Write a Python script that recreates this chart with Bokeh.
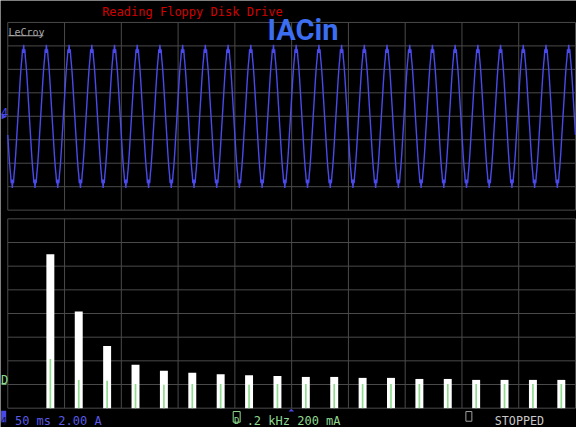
from bokeh.plotting import figure
from bokeh.models import Range1d, Label
from bokeh.embed import file_html
from bokeh.resources import INLINE

# ---------------- data ----------------
title_text = "Reading Floppy Disk Drive"
trace_name = "IACin"
status_ch4 = "50 ms 2.00 A"
status_math = ".2 kHz 200 mA"
status_run = "STOPPED"

# timebase / scales (per division)
ms_per_div = 50
amps_per_div = 2.0
hz_per_div = 200
ma_per_div = 200
n_xdiv = 10
n_ydiv = 8

# one cycle of the input current (A), sampled every 0.5 ms, starting at the positive peak
cycle_amps = [6.1, 5.4, 5.7, 5.0, 4.5, 3.9, 3.2, 2.4, 1.6, 0.8,
              0.0, -0.8, -1.6, -2.4, -3.2, -3.9, -4.5, -5.0, -5.7, -5.4,
              -6.1, -5.4, -5.7, -5.0, -4.5, -3.9, -3.2, -2.4, -1.6, -0.8,
              0.0, 0.8, 1.6, 2.4, 3.2, 3.9, 4.5, 5.0, 5.7, 5.4]
sample_ms = 0.5
period_ms = 20
first_peak_ms = 14.0
n_cycles = 27

# harmonic spectrum
harm_freq_hz = [150, 250, 350, 450, 550, 650, 750, 850, 950, 1050,
                1150, 1250, 1350, 1450, 1550, 1650, 1750, 1850, 1950]
limit_ma = [1300, 816, 525, 367, 316, 300, 286, 278, 272, 264,
            264, 256, 256, 247, 247, 239, 239, 239, 239]
measured_ma = [416, 239, 231, 204, 198, 204, 204, 198, 204, 204,
               204, 204, 204, 204, 204, 204, 204, 204, 204]

# ---------------- layout (reference pixel space) ----------------
PX_L, PX_R = 13.3, 583.0
TOP_T, TOP_B = 26.7, 221.0
BOT_T, BOT_B = 230.0, 426.0
CANVAS_L, CANVAS_R, CANVAS_T, CANVAS_B = 6.0, 584.0, 4.0, 446.0


def lin_range(v0, p0, v1, p1, q_start, q_end):
    s = (v1 - v0) / (p1 - p0)
    return Range1d(start=v0 + (q_start - p0) * s, end=v0 + (q_end - p0) * s)


t_max = ms_per_div * n_xdiv
a_max = amps_per_div * n_ydiv / 2
f_max = hz_per_div * n_xdiv
m_max = ma_per_div * n_ydiv

p = figure(width=576, height=427,
           x_range=Range1d(CANVAS_L, CANVAS_R), y_range=Range1d(CANVAS_B, CANVAS_T),
           x_axis_type=None, y_axis_type=None,
           output_backend="svg", toolbar_location=None, min_border=0,
           background_fill_color="black", border_fill_color="black",
           outline_line_color=None)
p.grid.visible = False

p.extra_x_ranges = {
    "time": lin_range(0, PX_L, t_max, PX_R, CANVAS_L, CANVAS_R),
    "freq": lin_range(0, PX_L, f_max, PX_R, CANVAS_L, CANVAS_R),
}
p.extra_y_ranges = {
    "amps": lin_range(-a_max, TOP_B, a_max, TOP_T, CANVAS_B, CANVAS_T),
    "ma": lin_range(0, BOT_B, m_max, BOT_T, CANVAS_B, CANVAS_T),
}

GRID = "#4a4a4a"

# graticules
t_lines = [i * ms_per_div for i in range(n_xdiv + 1)]
a_lines = [-a_max + i * amps_per_div for i in range(n_ydiv + 1)]
p.segment(x0=t_lines, y0=[-a_max] * len(t_lines), x1=t_lines, y1=[a_max] * len(t_lines),
          x_range_name="time", y_range_name="amps", line_color=GRID, line_width=1)
p.segment(x0=[0] * len(a_lines), y0=a_lines, x1=[t_max] * len(a_lines), y1=a_lines,
          x_range_name="time", y_range_name="amps", line_color=GRID, line_width=1)

f_lines = [i * hz_per_div for i in range(n_xdiv + 1)]
m_lines = [i * ma_per_div for i in range(n_ydiv + 1)]
p.segment(x0=f_lines, y0=[0] * len(f_lines), x1=f_lines, y1=[m_max] * len(f_lines),
          x_range_name="freq", y_range_name="ma", line_color=GRID, line_width=1)
p.segment(x0=[0] * len(m_lines), y0=m_lines, x1=[f_max] * len(m_lines), y1=m_lines,
          x_range_name="freq", y_range_name="ma", line_color=GRID, line_width=1)

# waveform trace
xs, ys = [], []
for c in range(n_cycles):
    for k, a in enumerate(cycle_amps):
        t = first_peak_ms - period_ms + c * period_ms + k * sample_ms
        if 0 <= t <= t_max:
            xs.append(t)
            ys.append(a)
p.line(xs, ys, x_range_name="time", y_range_name="amps",
       line_color="#4a4aea", line_width=1.4)

# spectrum bars
p.vbar(x=harm_freq_hz, top=limit_ma, bottom=0, width=28,
       x_range_name="freq", y_range_name="ma",
       fill_color="white", line_color=None)
p.vbar(x=harm_freq_hz, top=measured_ma, bottom=0, width=6,
       x_range_name="freq", y_range_name="ma",
       fill_color="#8fdc8f", line_color=None)

MONO = "DejaVu Sans Mono"


def label(x, y, text, color, size="12px", font=MONO, style="normal", align="left"):
    p.add_layout(Label(x=x, y=y, text=text, text_color=color, text_font=font,
                       text_font_size=size, text_font_style=style,
                       text_align=align, text_baseline="alphabetic"))


# header texts
label(108, 15.5, title_text, "#d40000")
label(274, 35, trace_name, "#3b6ef0", size="29px", font="Roboto", style="bold")
label(14, 37.5, "LeCroy", "#a8a8a8", size="10px")
p.segment(x0=[14], y0=[40.5], x1=[49], y1=[40.5], line_color="#a8a8a8", line_width=1)

# channel markers on left edge
label(6.5, 120, "4", "#4a4aea", size="12px")
p.patch([7, 12.5, 7], [121.5, 124.3, 127], fill_color="#4a4aea", line_color=None)
label(6.5, 397, "D", "#8fdc8f", size="12px")
p.segment(x0=[7], y0=[401], x1=[12], y1=[401], line_color="#8fdc8f", line_width=1.5)

# status line
p.quad(left=[6.7], right=[11.7], top=[428.7], bottom=[440.5], fill_color="#4a4aea", line_color=None)
label(9.2, 439, "4", "#101040", size="10px", align="center")
label(20.5, 439.5, status_ch4, "#5a5ae6")

p.quad(left=[239.5], right=[246.5], top=[429.5], bottom=[440.5], fill_color=None,
       line_color="#8fdc8f", line_width=1)
label(243, 439, "D", "#8fdc8f", size="9px", align="center")
label(253, 439.5, status_math, "#8fd88f")
p.patch([295, 297.8, 300.7], [429.5, 426.5, 429.5], fill_color="#4a4aea", line_color=None)

p.quad(left=[473], right=[479], top=[429.5], bottom=[439.5], fill_color=None,
       line_color="#a0a0a0", line_width=1)
label(502, 439.5, status_run, "#c8c8c8", size="11.7px")

open("out.html", "w").write(file_html(p, INLINE))
